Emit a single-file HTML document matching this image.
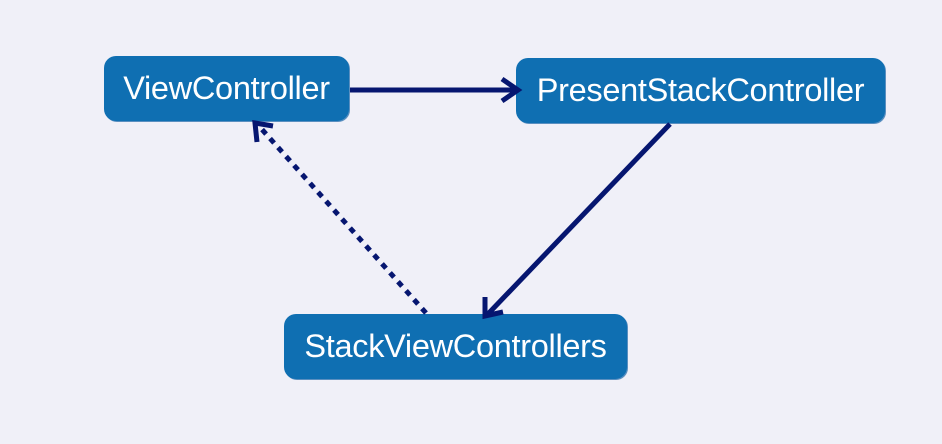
<!DOCTYPE html>
<html><head><style>
body{margin:0;width:942px;height:444px;background:#f0f0f8;overflow:hidden;position:relative;font-family:"Liberation Sans",sans-serif}
.b{position:absolute;background:#0f6fb2;border-radius:12px;color:#fff;font-size:32.5px;display:flex;align-items:center;justify-content:center;box-shadow:1px 1px 0 #5a8fc0;letter-spacing:-0.3px}
svg{position:absolute;left:0;top:0}
</style></head><body>
<div class="b" style="left:104px;top:56px;width:245px;height:65px">ViewController</div>
<div class="b" style="left:516px;top:58px;width:369px;height:65px">PresentStackController</div>
<div class="b" style="left:284px;top:314px;width:343px;height:65px">StackViewControllers</div>
<svg width="942" height="444">
<g stroke="#061670" stroke-width="5" fill="none">
<line x1="350" y1="90" x2="518" y2="90"/>
<polyline points="502,79 518,90 502,101" stroke-linejoin="miter"/>
<line x1="670" y1="124" x2="487" y2="315"/>
<polyline points="485,297 485,316 503,312"/>
<line x1="426" y1="313" x2="258" y2="125" stroke-dasharray="6,6"/>
<polyline points="257,142 255,123 273,126"/>
</g>
</svg>
</body></html>
